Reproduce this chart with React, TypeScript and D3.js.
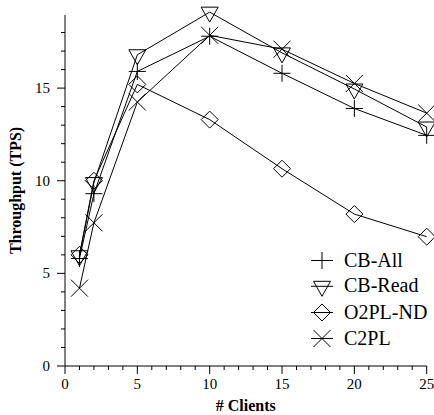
import React from "react";
import * as d3 from "d3";

const clients = [1, 2, 5, 10, 15, 20, 25];
const cbAll = [5.8, 9.3, 15.9, 17.8, 15.8, 13.9, 12.45];
const cbRead = [5.95, 9.9, 16.8, 19.1, 16.9, 14.95, 12.9];
const o2plNd = [6.0, 10.0, 15.2, 13.3, 10.65, 8.2, 6.98];
const c2pl = [4.2, 7.73, 14.25, 17.85, 17.1, 15.25, 13.65];

const seriesNames = ["CB-All", "CB-Read", "O2PL-ND", "C2PL"];
const seriesValues = [cbAll, cbRead, o2plNd, c2pl];
const markerKinds = ["plus", "tri", "diamond", "cross"];

const xMajorTicks = [0, 5, 10, 15, 20, 25];
const yMajorTicks = [0, 5, 10, 15];

const W = 434;
const H = 415;
const FONT = "Liberation Serif, Times New Roman, Times, DejaVu Serif, serif";

function Marker({ kind, x, y }: { kind: string; x: number; y: number }) {
  const s = 8.5;
  let d = "";
  if (kind === "plus") {
    d = `M${x - s},${y}H${x + s}M${x},${y - s}V${y + s}`;
  } else if (kind === "tri") {
    d = `M${x - s},${y - 5}L${x + s},${y - 5}L${x},${y + 10}Z`;
  } else if (kind === "diamond") {
    d = `M${x - s},${y}L${x},${y - s}L${x + s},${y}L${x},${y + s}Z`;
  } else {
    d = `M${x - s},${y - s}L${x + s},${y + s}M${x - s},${y + s}L${x + s},${y - s}`;
  }
  return <path d={d} fill="none" stroke="black" strokeWidth={1} />;
}

export default function App() {
  const x = d3.scaleLinear().domain([0, 25]).range([65, 426.7]);
  const y = d3.scaleLinear().domain([0, 19]).range([366, 14]);
  const line = d3
    .line<number>()
    .x((_, i) => x(clients[i]))
    .y((v) => y(v));

  const xMinor = d3.range(0, 26);
  const yMinor = d3.range(0, 19);

  const legendX0 = 311;
  const legendX1 = 333;
  const legendBase = [266.5, 292.3, 318.5, 344.5];
  const ts = { fontFamily: FONT };

  return (
    <svg
      width={W}
      height={H}
      style={{ position: "absolute", left: 0, top: 0, background: "white", fontFamily: FONT }}
    >
      <rect x={0} y={0} width={W} height={H} fill="white" />
      <g stroke="black" strokeWidth={1} fill="none">
        <line x1={x(0)} x2={x(0)} y1={y(0)} y2={y(18.95)} />
        <line x1={x(0)} x2={x(25)} y1={y(0)} y2={y(0)} />
        {xMinor.map((t) => (
          <line
            key={"xt" + t}
            x1={x(t)}
            x2={x(t)}
            y1={y(0)}
            y2={y(0) + (t % 5 === 0 ? 8 : 4)}
          />
        ))}
        {yMinor.map((t) => (
          <line
            key={"yt" + t}
            x1={x(0)}
            x2={x(0) - (t % 5 === 0 ? 8 : 4)}
            y1={y(t)}
            y2={y(t)}
          />
        ))}
      </g>
      <g fontSize={15} fill="black">
        {xMajorTicks.map((t) => (
          <text key={"xl" + t} x={x(t)} y={389} textAnchor="middle" style={ts}>
            {t}
          </text>
        ))}
        {yMajorTicks.map((t) => (
          <text key={"yl" + t} x={50} y={y(t) + 5} textAnchor="end" style={ts}>
            {t}
          </text>
        ))}
      </g>
      <text x={245.8} y={411} textAnchor="middle" fontWeight="bold" fontSize={16} style={ts}>
        # Clients
      </text>
      <text
        transform={`translate(21,${(y(0) + y(18.95)) / 2}) rotate(-90)`}
        textAnchor="middle"
        fontWeight="bold"
        fontSize={16}
        style={ts}
      >
        Throughput (TPS)
      </text>
      {seriesValues.map((vals, si) => (
        <path key={"s" + si} d={line(vals) || ""} fill="none" stroke="black" strokeWidth={1} />
      ))}
      {seriesValues.map((vals, si) => (
        <g key={"m" + si}>
          {vals.map((v, i) => (
            <Marker key={i} kind={markerKinds[si]} x={x(clients[i])} y={y(v)} />
          ))}
        </g>
      ))}
      {seriesNames.map((name, i) => (
        <g key={"lg" + i}>
          <line
            x1={legendX0}
            x2={legendX1}
            y1={legendBase[i] - 6}
            y2={legendBase[i] - 6}
            stroke="black"
            strokeWidth={1}
          />
          <Marker kind={markerKinds[i]} x={(legendX0 + legendX1) / 2} y={legendBase[i] - 6} />
          <text x={344} y={legendBase[i]} fontSize={20} style={ts}>
            {name}
          </text>
        </g>
      ))}
    </svg>
  );
}
